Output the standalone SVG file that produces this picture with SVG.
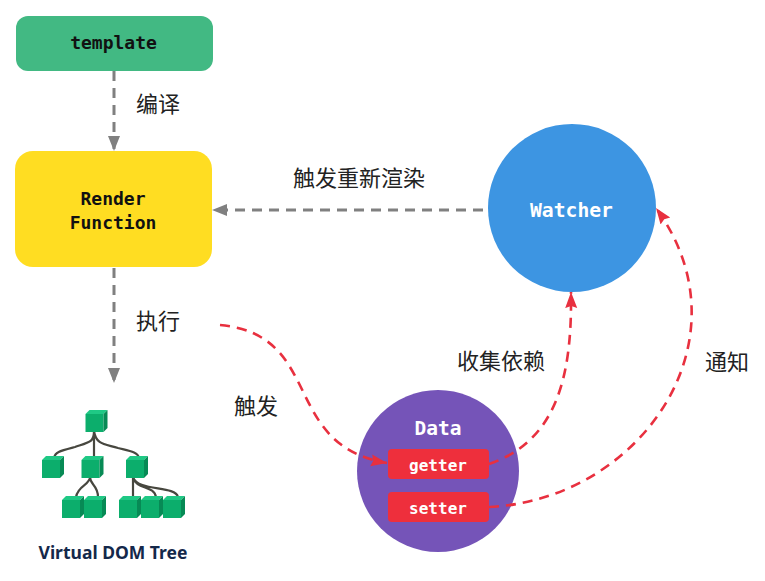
<svg xmlns="http://www.w3.org/2000/svg" width="765" height="581" viewBox="0 0 765 581">
<style>
.m{font-family:"DejaVu Sans Mono","Liberation Mono",monospace;font-weight:700}
.c{font-family:"Noto Sans CJK SC",sans-serif;font-size:22px;fill:#222}
.g{fill:none;stroke:#808080;stroke-width:3;stroke-dasharray:10 7}
.r{fill:none;stroke:#e8303f;stroke-width:2.600;stroke-dasharray:10 7}
.l{fill:none;stroke:#47473f;stroke-width:2.200}
</style>
<defs>
<marker id="ag" markerWidth="17" markerHeight="14" refX="15" refY="6" orient="auto" markerUnits="userSpaceOnUse"><path d="M0 0L15 6L0 12z" fill="#808080"/></marker>
<marker id="ar" markerWidth="18" markerHeight="14" refX="16" refY="6" orient="auto" markerUnits="userSpaceOnUse"><path d="M0 0L16 6L0 12L2 6z" fill="#e8303f"/></marker>
<g id="cube"><path d="M-11 -7L-7 -11H11L7 -7z" fill="#1fc985"/><path d="M-11 -7H7V11H-11z" fill="#0cae6c"/><path d="M7 -7L11 -11V7L7 11z" fill="#078a55"/></g>
</defs>
<rect width="765" height="581" fill="#fff"/>
<g id="template"><rect x="16" y="16" width="197" height="55" rx="12" fill="#42b983"/><text class="m" x="113.500" y="49" font-size="18" text-anchor="middle" fill="#111">template</text></g>
<g id="render"><rect x="15" y="151" width="197" height="116" rx="18" fill="#ffdd22"/><text class="m" x="113" y="205" font-size="18" text-anchor="middle" fill="#111">Render</text><text class="m" x="113" y="229" font-size="18" text-anchor="middle" fill="#111">Function</text></g>
<g id="watcher"><circle cx="572" cy="208" r="84" fill="#3d95e2"/><text class="m" x="571.500" y="217" font-size="19.700" text-anchor="middle" fill="#fff">Watcher</text></g>
<g id="data"><circle cx="438" cy="471" r="81" fill="#7554b8"/><text class="m" x="438" y="435" font-size="19.500" text-anchor="middle" fill="#fff">Data</text>
<rect x="388" y="449" width="101" height="30" rx="4" fill="#ee2f3c"/><text class="m" x="438" y="471" font-size="16" text-anchor="middle" fill="#fff">getter</text>
<rect x="388" y="492" width="101" height="30" rx="4" fill="#ee2f3c"/><text class="m" x="438" y="514" font-size="16" text-anchor="middle" fill="#fff">setter</text></g>
<g id="vdom">
<path class="l" d="M94 431C94 442 90 442 75 447C60 451 55 452 54 458M94 431V458M94 431C96 445 105 444 118 448C130 451 138 452 139 458M90 477C90 485 78 485 76 497M90 477C90 485 98 485 98 497M133 477V497M133 477C136 490 154 485 156 497M133 477C138 492 175 485 178 497"/>
<use href="#cube" x="96.500" y="421"/><use href="#cube" x="53" y="467"/><use href="#cube" x="92.500" y="467"/><use href="#cube" x="137" y="467"/>
<use href="#cube" x="73" y="507"/><use href="#cube" x="95" y="507"/><use href="#cube" x="130" y="507"/><use href="#cube" x="152" y="507"/><use href="#cube" x="174" y="507"/>
<text x="113" y="559" font-family="'Noto Sans','Open Sans',sans-serif" font-weight="700" font-size="17.500" text-anchor="middle" fill="#14284a">Virtual DOM Tree</text></g>
<g id="connectors">
<path class="g" d="M114 71V151" marker-end="url(#ag)"/>
<path class="g" d="M483 210H212" marker-end="url(#ag)"/>
<path class="g" d="M114 268V383" marker-end="url(#ag)"/>
<path class="r" d="M220 325C325 335 280 445 387 463" marker-end="url(#ar)"/>
<path class="r" d="M489 464C560 440 572 370 571 292" marker-end="url(#ar)"/>
<path class="r" d="M489 507C640 500 752 340 656 208" marker-end="url(#ar)"/>
</g>
<g id="labels">
<text class="c" x="136" y="112">编译</text>
<text class="c" x="293" y="186">触发重新渲染</text>
<text class="c" x="136" y="329">执行</text>
<text class="c" x="234" y="414">触发</text>
<text class="c" x="457" y="369">收集依赖</text>
<text class="c" x="705" y="370">通知</text>
</g>
</svg>
